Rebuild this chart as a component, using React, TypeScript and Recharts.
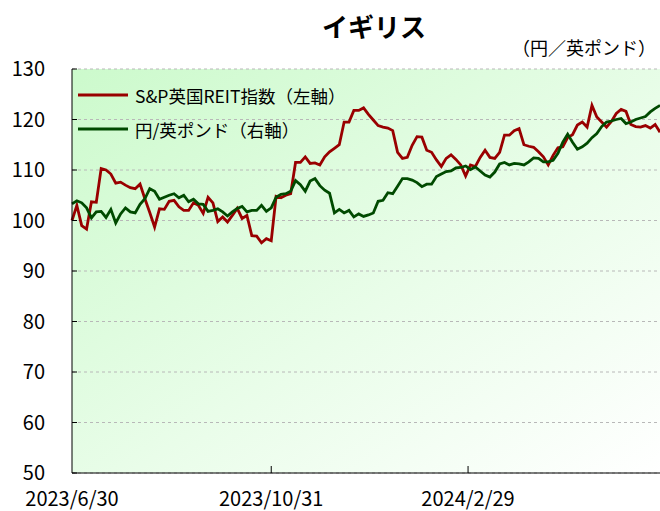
import { CartesianGrid, Legend, Line, LineChart, XAxis, YAxis } from 'recharts';

const FONT = '"Noto Sans CJK JP", "Noto Sans", sans-serif';

// S&P英国REIT指数 (左軸), roughly every 3 days from 2023/6/30
const reit = [
  100, 103, 99, 98.3, 103.7, 103.6, 110.3, 110, 109.2, 107.4,
  107.6, 107, 106.5, 106.3, 107.2, 104.3, 101.6, 98.7, 102.3, 102.2,
  103.8, 104, 102.7, 102, 102, 103.5, 103, 101.4, 104.6, 103.5,
  99.8, 100.7, 99.7, 101, 102.4, 100.4, 101, 97, 96.9, 95.6,
  96.4, 96, 104.8, 104.5, 105, 105.3, 111.5, 111.5, 112.6, 111.3,
  111.4, 111, 112.6, 113.6, 114.3, 115, 119.5, 119.5, 121.8, 121.8,
  122.3, 121, 119.9, 118.8, 118.5, 118.3, 117.8, 113.5, 112.3, 112.5,
  114.9, 116.6, 116.5, 113.9, 113.5, 112, 110.7, 112.3, 113, 112.1,
  111, 108.8, 111, 110.7, 112.5, 113.9, 112.5, 112.3, 113.5, 116.9,
  116.9, 117.8, 118.2, 115, 114.7, 114.5, 113.6, 112.6, 111, 112.9,
  114.4, 114.6, 116.4, 117, 118.9, 119.5, 118.5, 122.8, 120.5, 119.5,
  118.5, 119.6, 121.2, 122, 121.6, 119, 118.6, 118.5, 118.8, 118.3,
  119, 117.5,
];

// 円/英ポンド (右軸)
const gbpJpy = [
  103.3, 103.9, 103.5, 102.5, 100.5, 101.7, 101.8, 100.6, 102.2, 99.5,
  101.3, 102.5, 101.7, 101.5, 103.2, 104.3, 106.3, 105.8, 104.2, 104.6,
  105, 105.3, 104.5, 105, 103.7, 104.2, 103.3, 103.2, 101.8, 102,
  102.3, 101.7, 100.9, 101.7, 102.4, 102.8, 101.7, 102, 102, 103,
  101.8, 102.5, 104.6, 105.2, 105.3, 105.8, 107.9, 107.1, 105.8, 107.8,
  108.3, 106.9, 106, 105.4, 101.5, 102.2, 101.5, 102, 100.7, 101.3,
  100.8, 101.1, 101.5, 103.8, 104, 105.5, 105.3, 106.8, 108.3, 108.3,
  108, 107.5, 106.7, 107.2, 107.2, 108.7, 109.2, 109.7, 109.8, 110.4,
  110.5, 110.8, 110.1, 110.6, 109.8, 109, 108.6, 109.6, 111.2, 111.5,
  111, 111.3, 111.2, 111, 111.6, 112.4, 112.3, 111.6, 111.6, 111.9,
  113.3, 115.5, 117.1, 115.5, 114.1, 114.6, 115.3, 116.4, 117.2, 118.6,
  119.5, 119.7, 120, 120.2, 119.2, 119.5, 120, 120.3, 120.6, 121.5,
  122.2, 122.8,
];

const xTicks = [0, 41, 81.5];
const xTickLabels = ['2023/6/30', '2023/10/31', '2024/2/29'];
const yTicks = [50, 60, 70, 80, 90, 100, 110, 120, 130];

const seriesNames = ['S&P英国REIT指数（左軸）', '円/英ポンド（右軸）'];
const seriesColors = ['#990000', '#004a00'];

const data = reit.map((v, i) => ({ i, reit: v, gbp: gbpJpy[i] }));

const YTick = (props: any) => {
  const { x, y, payload } = props;
  return (
    <g>
      <line x1={x} x2={x + 5} y1={y} y2={y} stroke="#000" />
      <text x={x - 27} y={y + 7} textAnchor="end" fontSize={20} fontFamily={FONT} fill="#000">
        {payload.value}
      </text>
    </g>
  );
};

const XTick = (props: any) => {
  const { x, y, payload } = props;
  const idx = xTicks.indexOf(payload.value);
  return (
    <g>
      {idx > 0 && <line x1={x} x2={x} y1={y - 7} y2={y} stroke="#000" />}
      <text x={x} y={y + 33} textAnchor="middle" fontSize={20} fontFamily={FONT} fill="#000">
        {xTickLabels[idx]}
      </text>
    </g>
  );
};

const renderLegend = () => (
  <div style={{ fontFamily: FONT, fontSize: 17.5, color: '#000', whiteSpace: 'nowrap' }}>
    {seriesNames.map((name, k) => (
      <div key={name} style={{ display: 'flex', alignItems: 'center', height: 34 }}>
        <svg width={57} height={6}>
          <line x1={0} x2={50} y1={3} y2={3} stroke={seriesColors[k]} strokeWidth={2.8} />
        </svg>
        <span>{name}</span>
      </div>
    ))}
  </div>
);

export default function App() {
  return (
    <div
      style={{
        position: 'fixed',
        left: 0,
        top: 0,
        width: 660,
        height: 511,
        overflow: 'hidden',
        background: '#fff',
      }}
    >
      <div
        style={{
          position: 'absolute',
          left: 274,
          width: 200,
          top: 7,
          textAlign: 'center',
          fontFamily: FONT,
          fontWeight: 700,
          fontSize: 26,
        }}
      >
        イギリス
      </div>
      <div
        style={{
          position: 'absolute',
          left: 512,
          top: 34,
          fontFamily: FONT,
          fontSize: 18,
          whiteSpace: 'nowrap',
        }}
      >
        （円／英ポンド）
      </div>
      <LineChart
        width={660}
        height={511}
        data={data}
        margin={{ top: 69, right: 0, bottom: 0, left: 0 }}
      >
        <defs>
          <linearGradient id="bgGrad" x1="0" y1="0" x2="1" y2="1">
            <stop offset="0%" stopColor="#ccfacc" />
            <stop offset="55%" stopColor="#e9fde9" />
            <stop offset="100%" stopColor="#ffffff" />
          </linearGradient>
        </defs>
        <CartesianGrid
          vertical={false}
          stroke="#b8b8b8"
          strokeDasharray="3 3"
          fill="url(#bgGrad)"
          fillOpacity={1}
        />
        <XAxis
          type="number"
          dataKey="i"
          domain={[0, 121]}
          ticks={xTicks}
          tick={<XTick />}
          tickLine={false}
          tickSize={0}
          tickMargin={0}
          height={38}
          stroke="#000"
          interval={0}
        />
        <YAxis
          domain={[50, 130]}
          ticks={yTicks}
          tick={<YTick />}
          tickLine={false}
          tickSize={0}
          tickMargin={0}
          width={72}
          stroke="#000"
          interval={0}
        />
        <Legend
          layout="vertical"
          align="center"
          verticalAlign="middle"
          content={renderLegend}
          wrapperStyle={{ top: 78, left: 78, width: 'auto' }}
        />
        <Line
          dataKey="reit"
          stroke={seriesColors[0]}
          strokeWidth={2.8}
          dot={false}
          isAnimationActive={false}
        />
        <Line
          dataKey="gbp"
          stroke={seriesColors[1]}
          strokeWidth={2.8}
          dot={false}
          isAnimationActive={false}
        />
      </LineChart>
    </div>
  );
}
